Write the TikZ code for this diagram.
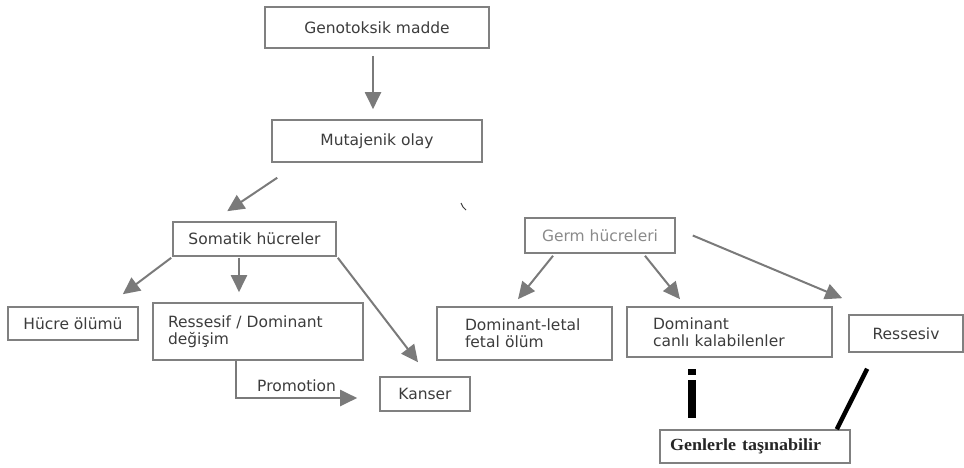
\documentclass[tikz,border=0pt]{standalone}
\usepackage{fontspec}
\usetikzlibrary{arrows.meta,calc}
\newfontfamily\boxfont{DejaVu Sans}
\newfontfamily\notefont{Liberation Serif}
\definecolor{edge}{HTML}{808080}
\definecolor{ink}{HTML}{3C3C3C}
\definecolor{pale}{HTML}{8A8A8A}
\definecolor{flow}{HTML}{7A7A7A}

\begin{document}
\begin{tikzpicture}[x=1pt,y=-1pt,
  box/.style={draw=edge, line width=1.6pt, rectangle, inner sep=0pt,
    font=\boxfont\fontsize{15.5}{17}\selectfont, text=ink},
  lbox/.style={box, align=left, inner xsep=#1},
  arr/.style={draw=flow, line width=2pt,
    -{Triangle[length=17pt,width=16pt,fill=flow]}},
  penline/.style={draw=black, line width=4.5pt},
  lbl/.style={font=\boxfont\fontsize{15.5}{17}\selectfont, text=ink, inner sep=0pt}
]
\useasboundingbox (0,0) rectangle (964,468);

% boxes
\node[box, minimum width=224, minimum height=41] (gen) at (377,27.5) {Genotoksik madde};
\node[box, minimum width=210, minimum height=42] (mut) at (377,141) {Mutajenik olay};
\node[box, minimum width=163, minimum height=34] (som) at (254.5,239) {Somatik hücreler};
\node[box, minimum width=130, minimum height=33] (hucre) at (73,323.5) {Hücre ölümü};
\node[lbox=15, text width=180, minimum height=57] (ress) at (258,331.5)
  {Ressesif / Dominant\\değişim};
\node[box, minimum width=90, minimum height=34] (kanser) at (425,394) {Kanser};
\node[box, text=pale, minimum width=150, minimum height=35] (germ) at (600,235.5) {Germ hücreleri};
\node[lbox=28, text width=119, minimum height=53] (dlet) at (524.5,333.5)
  {\mbox{Dominant-letal}\\fetal ölüm};
\node[lbox=26, text width=153, minimum height=50] (dcan) at (729.5,332)
  {Dominant\\canlı kalabilenler};
\node[box, minimum width=114, minimum height=37] (resv) at (906,333.5) {Ressesiv};
\node[lbox=10, text width=170, minimum height=33, text=black!85,
  font=\notefont\bfseries\fontsize{17}{19}\selectfont] (genl) at (755,446.5)
  {\raisebox{-3pt}{\scalebox{1.06}[1]{Genlerle taşınabilir}}};

% arrows
\draw[arr] ($(gen.south)+(-4,7)$) -- ($(mut.north)+(-4,-10)$);
\draw[arr] ($(mut.south west)+(6,15)$) -- ($(som.north west)+(55,-10)$);
\draw[arr] ($(som.south west)+(-1,1)$) -- ($(hucre.north east)+(-16,-12)$);
\draw[arr] ($(som.south)+(-15.5,1)$) -- ($(ress.north)+(-19,-10)$);
\draw[arr] ($(som.south east)+(1,1)$) -- ($(kanser.north)+(-7,-14)$);
\draw[arr] ($(ress.south)+(-22,0)$) |- ($(kanser.west)+(-22,4)$)
  node[lbl, pos=0.75, above=5pt] (promo) {Promotion};
\draw[arr] ($(germ.south)+(-47,2)$) -- ($(dlet.north)+(-6.5,-7)$);
\draw[arr] ($(germ.south)+(45,2)$) -- ($(dcan.north)+(-49.5,-7)$);
\draw[arr] ($(germ.east)+(17,0)$) -- ($(resv.north west)+(-6,-16)$);

% hand-drawn links to the note box
\fill[black] ($(dcan.south)+(-41.5,11)$) rectangle ($(dcan.south)+(-33.5,17)$);
\fill[black] ($(dcan.south)+(-41.5,22)$) rectangle ($(dcan.south)+(-33.5,60)$);
\draw[penline] ($(resv.south west)+(19,16)$) -- ($(genl.north east)+(-14,0)$);

% small stray stroke
\draw[draw=ink, line width=1pt] (461,203) -- (463,207) -- (466,210);
\end{tikzpicture}
\end{document}
